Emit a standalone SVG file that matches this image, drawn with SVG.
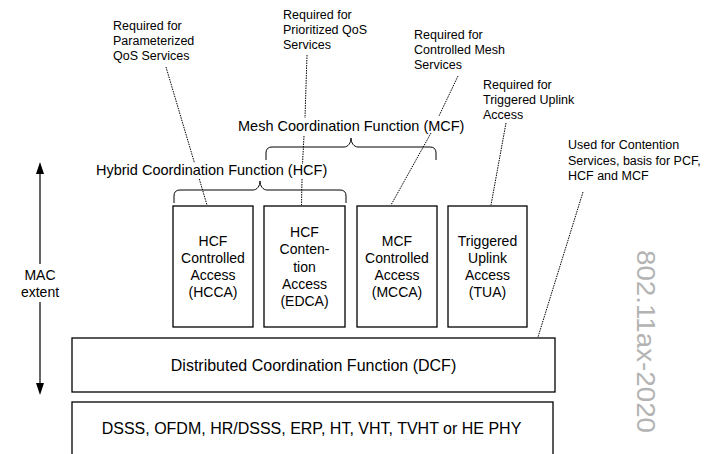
<svg xmlns="http://www.w3.org/2000/svg" width="711" height="454" viewBox="0 0 711 454">
<style>
text{font-family:"Liberation Sans",Arial,sans-serif;fill:#000}
.box{fill:#fff;stroke:#000;stroke-width:1.3}
.lbl{font-size:14px;text-anchor:middle}
.ann{font-size:12.5px}
.big{font-size:14.5px}
.dot{fill:none;stroke:#000;stroke-width:1;stroke-dasharray:1.5 1}
.brace{fill:none;stroke:#000;stroke-width:1}
.ah{fill:#000}
.wm{font-size:26px;fill:#b3b3b3}
</style>
<rect width="711" height="454" fill="#fff"/>

<g id="hcca">
<rect class="box" x="173" y="206" width="80" height="121"/>
<text class="lbl" x="213" y="246">HCF</text>
<text class="lbl" x="213" y="263">Controlled</text>
<text class="lbl" x="213" y="280">Access</text>
<text class="lbl" x="213" y="297">(HCCA)</text>
</g>
<g id="edca">
<rect class="box" x="264" y="206" width="81" height="121"/>
<text class="lbl" x="304.5" y="237">HCF</text>
<text class="lbl" x="304.5" y="254">Conten-</text>
<text class="lbl" x="304.5" y="271.5">tion</text>
<text class="lbl" x="304.5" y="288.5">Access</text>
<text class="lbl" x="304.5" y="306">(EDCA)</text>
</g>
<g id="mcca">
<rect class="box" x="357" y="206" width="80" height="121"/>
<text class="lbl" x="397" y="246">MCF</text>
<text class="lbl" x="397" y="263">Controlled</text>
<text class="lbl" x="397" y="280">Access</text>
<text class="lbl" x="397" y="297">(MCCA)</text>
</g>
<g id="tua">
<rect class="box" x="448" y="206" width="79" height="121"/>
<text class="lbl" x="487.5" y="246">Triggered</text>
<text class="lbl" x="487.5" y="263">Uplink</text>
<text class="lbl" x="487.5" y="280">Access</text>
<text class="lbl" x="487.5" y="297">(TUA)</text>
</g>
<g id="dcf">
<rect class="box" x="72" y="338" width="483" height="54"/>
<text x="313.5" y="371" font-size="16" text-anchor="middle">Distributed Coordination Function (DCF)</text>
</g>
<g id="phy">
<rect class="box" x="72" y="402" width="481" height="60"/>
<text x="311.5" y="434" font-size="16" text-anchor="middle">DSSS, OFDM, HR/DSSS, ERP, HT, VHT, TVHT or HE PHY</text>
</g>

<g id="hcf">
<path class="brace" d="M174,203 V196 Q174,190 180,190 H253 C257,190 260,186 260,181 C260,186 263,190 267,190 H340 Q346,190 346,196 V203"/>
<text class="big" x="96" y="175">Hybrid Coordination Function (HCF)</text>
</g>
<g id="mcf">
<path class="brace" d="M266,160 V153 Q266,147 272,147 H344 C348,147 351,143 351,138 C351,143 354,147 358,147 H430 Q436,147 436,153 V160"/>
<text class="big" x="238" y="131">Mesh Coordination Function (MCF)</text>
</g>

<g id="mac">
<line x1="40" y1="172" x2="40" y2="264" stroke="#000" stroke-width="1.2"/>
<polygon class="ah" points="36,174 40,162 44,174"/>
<line x1="40" y1="302" x2="40" y2="385" stroke="#000" stroke-width="1.2"/>
<polygon class="ah" points="36,383 40,395 44,383"/>
<text class="lbl" x="40" y="280">MAC</text>
<text class="lbl" x="40" y="297">extent</text>
</g>

<g id="notes">
<text class="ann" x="113" y="30">Required for</text>
<text class="ann" x="113" y="45">Parameterized</text>
<text class="ann" x="113" y="60">QoS Services</text>
<text class="ann" x="283" y="19">Required for</text>
<text class="ann" x="283" y="34">Prioritized QoS</text>
<text class="ann" x="283" y="49">Services</text>
<text class="ann" x="414" y="39">Required for</text>
<text class="ann" x="414" y="54">Controlled Mesh</text>
<text class="ann" x="414" y="69">Services</text>
<text class="ann" x="483" y="89">Required for</text>
<text class="ann" x="483" y="104">Triggered Uplink</text>
<text class="ann" x="483" y="119">Access</text>
<text class="ann" x="568" y="149">Used for Contention</text>
<text class="ann" x="568" y="164.5">Services, basis for PCF,</text>
<text class="ann" x="568" y="180">HCF and MCF</text>
</g>

<g id="connectors">
<line class="dot" x1="166" y1="67" x2="194.5" y2="163"/>
<line class="dot" x1="199.3" y1="179" x2="207" y2="205"/>
<line class="dot" x1="307" y1="55" x2="305" y2="118"/>
<line class="dot" x1="304" y1="136" x2="302.5" y2="164"/>
<line class="dot" x1="302" y1="179" x2="301.5" y2="205"/>
<line class="dot" x1="458" y1="76" x2="439" y2="116"/>
<line class="dot" x1="431" y1="133" x2="391" y2="205"/>
<line class="dot" x1="506" y1="123" x2="491" y2="205"/>
<line class="dot" x1="583" y1="192" x2="538" y2="337"/>
</g>

<text class="wm" transform="translate(637,250) rotate(90)" textLength="183" lengthAdjust="spacingAndGlyphs">802.11ax-2020</text>
</svg>
